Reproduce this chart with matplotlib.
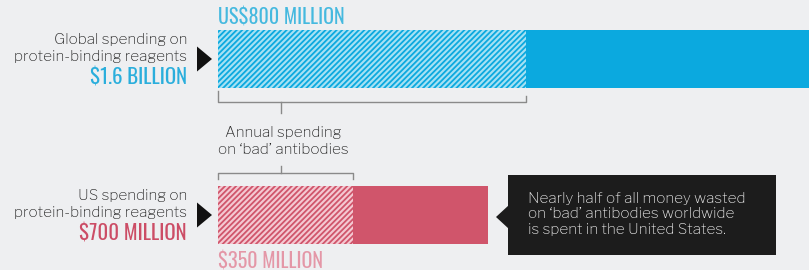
import matplotlib.pyplot as plt
from matplotlib.patches import Polygon, Rectangle
import matplotlib as mpl

# values in millions of US$
groups = ['Global', 'US']
total = [1600, 700]
bad = [800, 350]
total_labels = ['$1.6 BILLION', '$700 MILLION']
bad_labels = ['US$800 MILLION', '$350 MILLION']
desc = ['Global spending on\nprotein-binding reagents',
        'US spending on\nprotein-binding reagents']

solid_col = ['#0ba9df', '#d0556b']
light_col = ['#a6e1f3', '#f4c9d2']
label_col = ['#2aaedc', '#cc4d66']
bad_col = ['#45b9df', '#e497a7']

bar_top = [30, 186]
bar_h = 58

W, H = 809, 270
x0 = 218      # pixel where the value axis starts
s = 0.385     # pixels per million

def px(x):
    return (x - x0) / s

mpl.rcParams['hatch.linewidth'] = 1.3
bold = dict(family=['Oswald', 'Roboto Condensed', 'Antonio', 'DejaVu Sans'], fontweight='bold')
reg = dict(family=['Libre Franklin', 'Liberation Sans', 'DejaVu Sans'])

fig = plt.figure(figsize=(W / 100, H / 100), dpi=100, facecolor='#eeeff1')
ax = fig.add_axes([0, 0, 1, 1])
ax.set_facecolor('#eeeff1')
ax.set_xlim(px(0), px(W))
ax.set_ylim(H, 0)
ax.axis('off')

for i in range(2):
    yc = bar_top[i] + bar_h / 2
    ax.barh(yc, total[i], height=bar_h, left=0, color=solid_col[i], lw=0)
    ax.barh(yc, bad[i], height=bar_h, left=0, color=light_col[i],
            edgecolor=solid_col[i], hatch='//////', lw=0)
    ax.text(px(187), bar_top[i] + 18, desc[i], ha='right', va='center',
            fontsize=11, color='#222222', linespacing=1.3, **reg)
    ax.text(px(187), bar_top[i] + 48, total_labels[i], ha='right', va='center',
            fontsize=15, color=label_col[i], **bold)
    tri = Polygon([[px(197), yc - 12.5], [px(197), yc + 12.5], [px(212), yc]],
                  closed=True, color='#111111', lw=0)
    ax.add_patch(tri)

# value labels for the 'bad' part
ax.text(0, 17, bad_labels[0], ha='left', va='center', fontsize=14.5,
        color=bad_col[0], **bold)
ax.text(0, 261, bad_labels[1], ha='left', va='center', fontsize=14.5,
        color=bad_col[1], **bold)

# brackets
bc = '#8a8a8a'
ax.plot([0, 0, bad[0], bad[0]], [91, 102, 102, 96], color=bc, lw=1)
ax.plot([px(281), px(281)], [102, 113], color=bc, lw=1)
ax.plot([0, 0, bad[1], bad[1]], [179, 173, 173, 179], color=bc, lw=1)
ax.plot([px(281), px(281)], [166, 173], color=bc, lw=1)
ax.text(px(283), 141, "Annual spending\non \u2018bad\u2019 antibodies", ha='center',
        va='center', fontsize=11, color='#222222', linespacing=1.3, **reg)

# callout
ax.add_patch(Rectangle((px(508), 175), px(776) - px(508), 80,
                       color='#1c1c1c', lw=0))
ax.add_patch(Polygon([[px(496), 217], [px(509), 205], [px(509), 229]],
                     closed=True, color='#1c1c1c', lw=0))
ax.text(px(528), 214, "Nearly half of all money wasted\non \u2018bad\u2019 antibodies worldwide\nis spent in the United States.",
        ha='left', va='center', fontsize=11, color='#ececec', linespacing=1.25, **reg)

fig.savefig('out.png', dpi=100, facecolor=fig.get_facecolor())
